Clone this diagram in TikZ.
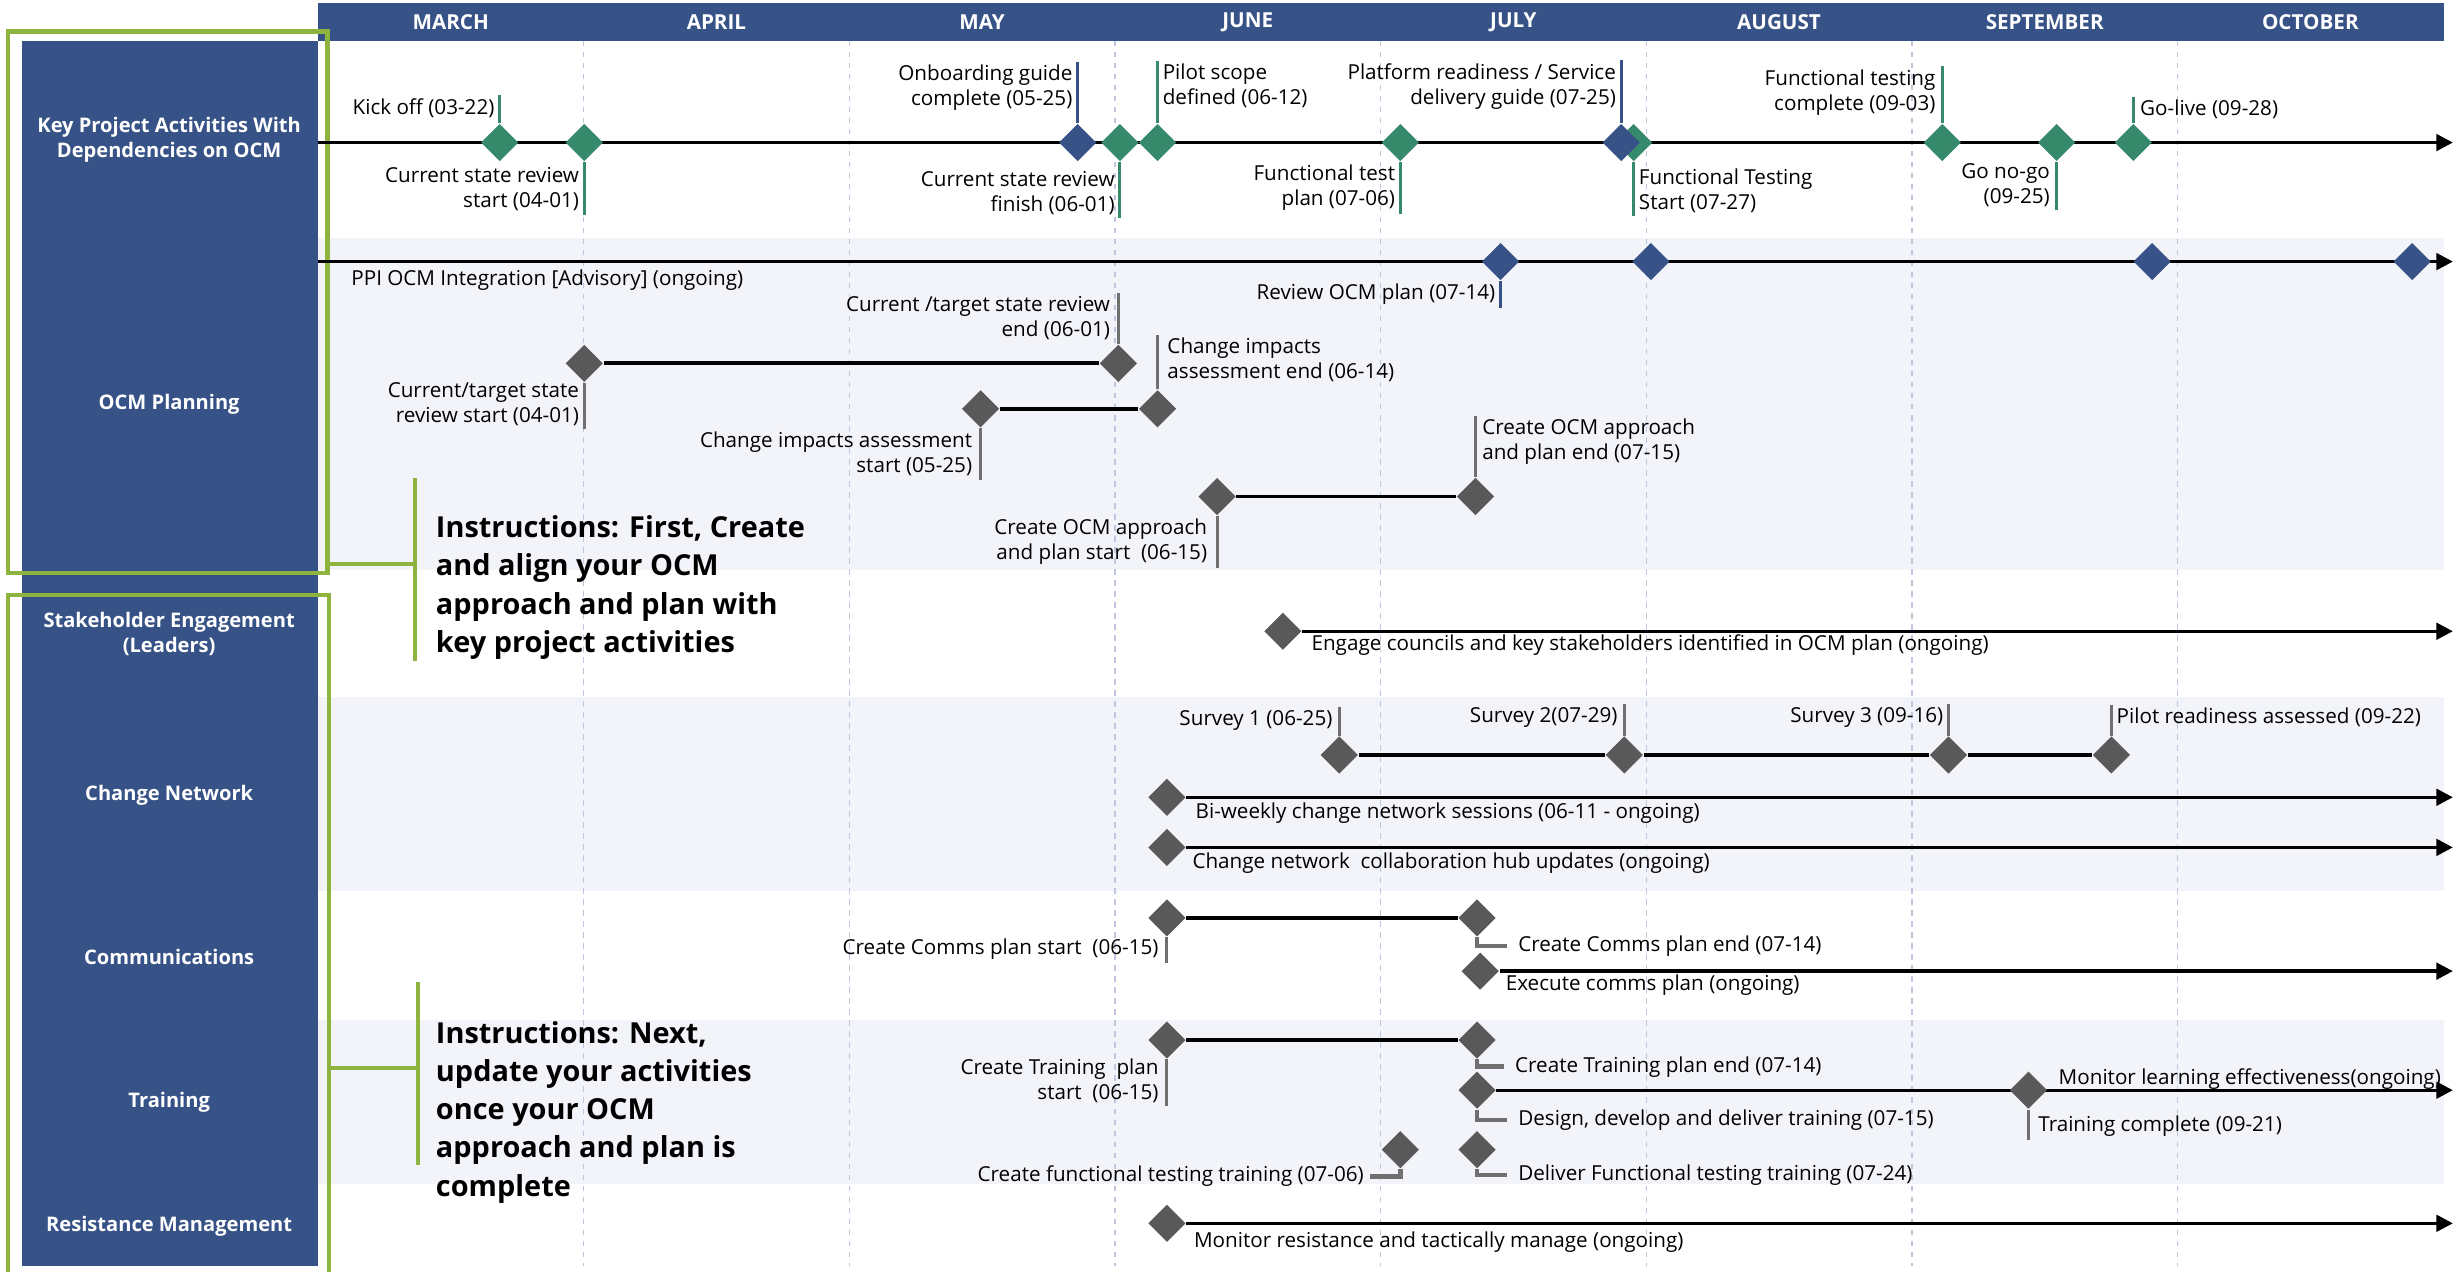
\documentclass[tikz,border=0pt]{standalone}
\usepackage{fontspec}
\setmainfont{Open Sans}
\usepackage{tikz}
\usetikzlibrary{shapes.geometric,
				arrows.meta}

\definecolor{hdrblue}{RGB}{55,82,135}
\definecolor{msgreen}{RGB}{54,137,106}
\definecolor{msgray}{RGB}{89,89,89}
\definecolor{stemgray}{RGB}{112,112,112}
\definecolor{rowshade}{RGB}{243,244,249}
\definecolor{gridblue}{RGB}{192,198,224}
\definecolor{framegreen}{RGB}{142,180,63}

\tikzset{
	ms/.style={diamond, inner sep=0pt, minimum width=0.48cm, minimum height=0.48cm},
	kms/.style={ms, fill=msgreen},
	bms/.style={ms, fill=hdrblue},
	gms/.style={ms, fill=msgray},
	lbl/.style={font=\fontsize{7.5}{9.1}\selectfont, inner xsep=0pt, inner ysep=1pt},
	lbll/.style={lbl, anchor=west, align=left},
	lblr/.style={lbl, anchor=east, align=right},
	rowlbl/.style={font=\bfseries\fontsize{7.3}{9.1}\selectfont, text=white, align=center},
	month/.style={font=\bfseries\fontsize{7.5}{9}\selectfont, text=white},
	inst/.style={font=\bfseries\fontsize{10.5}{13.9}\selectfont, anchor=west, align=left, inner sep=0pt},
	kstem/.style={draw=msgreen, line width=1.1pt},
	bstem/.style={draw=hdrblue, line width=1.1pt},
	gstem/.style={draw=stemgray, line width=1.1pt},
	elbow/.style={draw=stemgray, line width=1.6pt},
	tl/.style={line width=1.2pt, -{Triangle[length=6pt,width=6pt]}},
	bar/.style={line width=1.4pt},
	mgrid/.style={draw=gridblue, dash pattern=on 2pt off 2pt, line width=0.5pt},
	lframe/.style={draw=framegreen, line width=1.6pt}
}

\begin{document}
\begin{tikzpicture}[x=0.02cm, y=-0.02cm]
	\useasboundingbox (0,0) rectangle (1568,812);
	\fill[white] (0,0) rectangle (1568,812);
	\fill[rowshade] (203,152) rectangle (1560,364);
	\fill[rowshade] (203,445) rectangle (1560,569);
	\fill[rowshade] (203,651) rectangle (1560,756);
	\fill[hdrblue] (203,2) rectangle (1560,26);
	\fill[hdrblue] (14,26) rectangle (203,808);
	\foreach \i in {1,...,7}
		\draw[mgrid] ({203+169.6*\i},26) -- ({203+169.6*\i},808);
	\foreach \m [count=\i] in {MARCH,APRIL,MAY,JUNE,JULY,AUGUST,SEPTEMBER,OCTOBER}
		\node[month] (m\i) at ({203+169.6*(\i-0.5)},14) {\m};

	\node[rowlbl] (r-key) at (108,89) {Key Project Activities With\\Dependencies on OCM};
	\node[rowlbl] (r-ocm) at (108,258) {OCM Planning};
	\node[rowlbl] (r-stake) at (108,405) {Stakeholder Engagement\\(Leaders)};
	\node[rowlbl] (r-net) at (108,508) {Change Network};
	\node[rowlbl] (r-comm) at (108,611) {Communications};
	\node[rowlbl] (r-train) at (108,704) {Training};
	\node[rowlbl] (r-res) at (108,783) {Resistance Management};

	\draw[lframe] (5,20) rectangle (209,366);
	\draw[lframe] (5,816) |- (210,380) -- (210,816);
	\draw[lframe] (265,305) -- (265,422);
	\draw[lframe] (209,360) -- (265,360);
	\draw[lframe] (267,627) -- (267,744);
	\draw[lframe] (210,682) -- (267,682);
	\node[inst] (inst1) at (278,375) {Instructions: First, Create\\and align your OCM\\approach and plan with\\key project activities};
	\node[inst] (inst2) at (278,710) {Instructions: Next,\\update your activities\\once your OCM\\approach and plan is\\complete};

	% key project activities
	\coordinate (tend) at (1566,91);
	\coordinate (k0) at (203,91);
	\draw[tl] (k0) -- (tend);
	\node[kms] (kickoff) at (319,91) {};
	\node[kms] (csrs) at (373,91) {};
	\node[bms] (onb) at (688,91) {};
	\node[kms] (csrf) at (715,91) {};
	\node[kms] (pilot) at (739,91) {};
	\node[kms] (fttp) at (894,91) {};
	\node[kms] (ftts) at (1043,91) {};
	\node[bms] (plat) at (1035,91) {};
	\node[kms] (ftc) at (1240,91) {};
	\node[kms] (gonogo) at (1313,91) {};
	\node[kms] (golive) at (1362,91) {};
	\node[lblr] (kickoff-l) at (316,69) {Kick off (03-22)};
	\node[lblr] (csrs-l) at (370,121) {Current state review\\start (04-01)};
	\node[lblr] (onb-l) at (685,56) {Onboarding guide\\complete (05-25)};
	\node[lblr] (csrf-l) at (712,123) {Current state review\\finish (06-01)};
	\node[lbll] (pilot-l) at (742,55) {Pilot scope\\defined (06-12)};
	\node[lblr] (fttp-l) at (891,120) {Functional test\\plan (07-06)};
	\node[lblr] (plat-l) at (1032,55) {Platform readiness / Service\\delivery guide (07-25)};
	\node[lbll] (ftts-l) at (1046,122) {Functional Testing\\Start (07-27)};
	\node[lblr] (ftc-l) at (1236,59) {Functional testing\\complete (09-03)};
	\node[lblr] (gonogo-l) at (1309,118) {Go no-go\\(09-25)};
	\node[lbll] (golive-l) at (1366,70) {Go-live (09-28)};
	\foreach \n in {kickoff,pilot,ftc,golive}
		\draw[kstem] (\n.north) -- (\n.north |- \n-l.north);
	\foreach \n in {csrs,csrf,fttp,ftts,gonogo}
		\draw[kstem] (\n.south) -- (\n.south |- \n-l.south);
	\foreach \n in {onb,plat}
		\draw[bstem] (\n.north) -- (\n.north |- \n-l.north);

	% OCM planning
	\coordinate (o0) at (203,167);
	\draw[tl] (o0) -- (o0 -| tend);
	\node[bms] (rocm) at (958,167) {};
	\node[bms] (ocm2) at (1054,167) {};
	\node[bms] (ocm3) at (1374,167) {};
	\node[bms] (ocm4) at (1540,167) {};
	\node[lbll] (ppi-l) at (224,179) {PPI OCM Integration [Advisory] (ongoing)};
	\node[lblr] (rocm-l) at (955,188) {Review OCM plan (07-14)};
	\draw[bstem] (rocm.south) -- (rocm.south |- rocm-l.south);
	\node[gms] (ctsrs) at (373,232) {};
	\node[gms] (ctsre) at (714,232) {};
	\node[gms] (cias) at (626,261) {};
	\node[gms] (ciae) at (739,261) {};
	\node[gms] (ocms) at (777,317) {};
	\node[gms] (ocme) at (942,317) {};
	\draw[bar] (ctsrs) -- (ctsre);
	\draw[bar] (cias) -- (ciae);
	\draw[bar] (ocms) -- (ocme);
	\node[lblr] (ctsrs-l) at (370,258) {Current/target state\\review start (04-01)};
	\node[lblr] (ctsre-l) at (709,203) {Current /target state review\\end (06-01)};
	\node[lblr] (cias-l) at (621,290) {Change impacts assessment\\start (05-25)};
	\node[lbll] (ciae-l) at (745,230) {Change impacts\\assessment end (06-14)};
	\node[lblr] (ocms-l) at (771,346) {Create OCM approach\\and plan start~ (06-15)};
	\node[lbll] (ocme-l) at (946,282) {Create OCM approach\\and plan end (07-15)};
	\foreach \n in {ctsre,ciae,ocme}
		\draw[gstem] (\n.north) -- (\n.north |- \n-l.north);
	\foreach \n in {ctsrs,cias,ocms}
		\draw[gstem] (\n.south) -- (\n.south |- \n-l.south);

	% stakeholder engagement
	\node[gms] (eng) at (819,403) {};
	\draw[tl] (eng) -- (eng -| tend);
	\node[lbll] (eng-l) at (837,412) {Engage councils and key stakeholders identified in OCM plan (ongoing)};

	% change network
	\node[gms] (s1) at (855,482) {};
	\node[gms] (s2) at (1037,482) {};
	\node[gms] (s3) at (1244,482) {};
	\node[gms] (pra) at (1348,482) {};
	\draw[bar] (s1) -- (s2) -- (s3) -- (pra);
	\node[lblr] (s1-l) at (851,460) {Survey 1 (06-25)};
	\node[lblr] (s2-l) at (1033,458) {Survey 2(07-29)};
	\node[lblr] (s3-l) at (1241,458) {Survey 3 (09-16)};
	\node[lbll] (pra-l) at (1351,458) {Pilot readiness assessed (09-22)};
	\foreach \n in {s1,s2,s3,pra}
		\draw[gstem] (\n.north) -- (\n.north |- \n-l.north);
	\node[gms] (bw) at (745,509) {};
	\draw[tl] (bw) -- (bw -| tend);
	\node[lbll] (bw-l) at (763,519) {Bi-weekly change network sessions (06-11 - ongoing)};
	\node[gms] (hub) at (745,541) {};
	\draw[tl] (hub) -- (hub -| tend);
	\node[lbll] (hub-l) at (761,551) {Change network~ collaboration hub updates (ongoing)};

	% communications
	\node[gms] (ccs) at (745,586) {};
	\node[gms] (cce) at (943,586) {};
	\draw[bar] (ccs) -- (cce);
	\node[lblr] (ccs-l) at (740,606) {Create Comms plan start~ (06-15)};
	\draw[gstem] (ccs.south) -- (ccs.south |- ccs-l.south);
	\node[lbll] (cce-l) at (969,604) {Create Comms plan end (07-14)};
	\draw[elbow] (cce.south) |- ([xshift=-4pt]cce-l.west);
	\node[gms] (exe) at (945,620) {};
	\draw[tl] (exe) -- (exe -| tend);
	\node[lbll] (exe-l) at (961,629) {Execute comms plan (ongoing)};

	% training
	\node[gms] (cts) at (745,664) {};
	\node[gms] (cte) at (943,664) {};
	\draw[bar] (cts) -- (cte);
	\node[lblr] (cts-l) at (740,690) {Create Training~ plan\\start~ (06-15)};
	\draw[gstem] (cts.south) -- (cts.south |- cts-l.south);
	\node[lbll] (cte-l) at (967,681) {Create Training plan end (07-14)};
	\draw[elbow] (cte.south) |- ([xshift=-4pt]cte-l.west);
	\node[gms] (ddd) at (943,696) {};
	\draw[tl] (ddd) -- (ddd -| tend);
	\node[lbll] (ddd-l) at (969,715) {Design, develop and deliver training (07-15)};
	\draw[elbow] (ddd.south) |- ([xshift=-4pt]ddd-l.west);
	\node[gms] (tc) at (1295,696) {};
	\node[lbll] (tc-l) at (1301,719) {Training complete (09-21)};
	\draw[gstem] (tc.south) -- (tc.south |- tc-l.south);
	\node[lbll] (mle-l) at (1314,689) {Monitor learning effectiveness(ongoing)};
	\node[gms] (cft) at (894,734) {};
	\node[lblr] (cft-l) at (871,751) {Create functional testing training (07-06)};
	\draw[elbow] (cft.south) |- ([xshift=2pt]cft-l.east);
	\node[gms] (dft) at (943,734) {};
	\node[lbll] (dft-l) at (969,750) {Deliver Functional testing training (07-24)};
	\draw[elbow] (dft.south) |- ([xshift=-4pt]dft-l.west);

	% resistance management
	\node[gms] (mr) at (745,781) {};
	\draw[tl] (mr) -- (mr -| tend);
	\node[lbll] (mr-l) at (762,793) {Monitor resistance and tactically manage (ongoing)};
\end{tikzpicture}
\end{document}
